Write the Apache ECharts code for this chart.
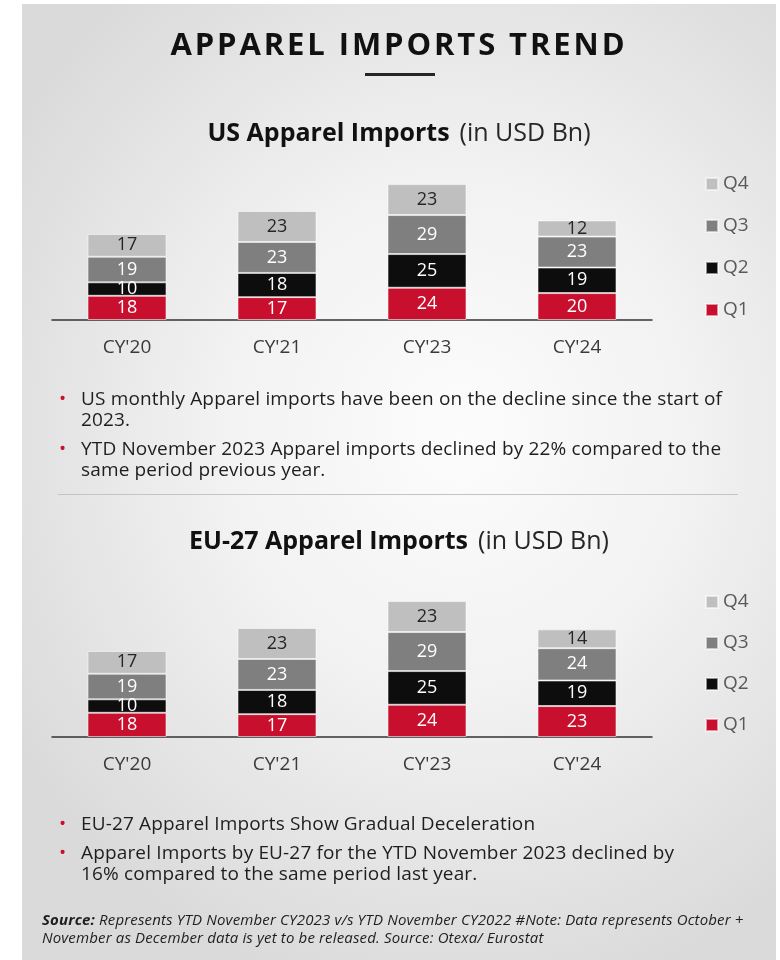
<!DOCTYPE html>
<html>
<head>
<meta charset="utf-8">
<script src="https://cdn.jsdelivr.net/npm/echarts@6/dist/echarts.min.js"></script>
<style>
  html, body { margin: 0; padding: 0; background: #fff; }
  body { width: 780px; height: 960px; position: relative; overflow: hidden; font-family: 'Open Sans', sans-serif; }
  #panel {
    position: absolute; left: 22px; top: 4px; width: 754px; height: 956px;
    background: radial-gradient(ellipse 70% 60% at 58% 45%, #fcfcfc 0%, #f2f2f2 45%, #dadada 100%);
  }
  #chart { position: absolute; left: 22px; top: 4px; width: 754px; height: 956px; }
  .main-title {
    position: absolute; left: 22px; width: 754px; top: 23px; text-align: center;
    font: bold 31px/40px 'Open Sans', sans-serif; letter-spacing: 2.9px; color: #111;
  }
  .rule { position: absolute; left: 365px; top: 73px; width: 70px; height: 3px; background: #262626; }
  .divider { position: absolute; left: 58px; top: 494px; width: 680px; height: 1px; background: #c4c4c4; }
  .bul {
    position: absolute; left: 81px; font-size: 19px; line-height: 21px; letter-spacing: 0.15px;
    color: #1e1e1e; white-space: nowrap;
  }
  .bul .dot {
    position: absolute; left: -22px; top: 0; color: #c8102e; font-size: 19px;
  }
  .source {
    position: absolute; left: 42px; top: 910px; font-size: 15px; line-height: 18px; letter-spacing: 0.15px;
    font-style: italic; color: #1e1e1e; white-space: nowrap;
  }
</style>
</head>
<body>
<div id="panel"></div>
<div id="chart"></div>

<div class="main-title">APPAREL IMPORTS TREND</div>
<div class="rule"></div>

<div class="bul" style="top:388px"><span class="dot">•</span>US monthly Apparel imports have been on the decline since the start of<br>2023.</div>
<div class="bul" style="top:438px"><span class="dot">•</span>YTD November 2023 Apparel imports declined by 22% compared to the<br>same period previous year.</div>

<div class="divider"></div>

<div class="bul" style="top:813px"><span class="dot">•</span>EU-27 Apparel Imports Show Gradual Deceleration</div>
<div class="bul" style="top:842px"><span class="dot">•</span>Apparel Imports by EU-27 for the YTD November 2023 declined by<br>16% compared to the same period last year.</div>

<div class="source"><b>Source:</b> Represents YTD November CY2023 v/s YTD November CY2022 #Note: Data represents October +<br>November as December data is yet to be released. Source: Otexa/ Eurostat</div>

<script>
// ======================
// DATA
// ======================

const categories = ["CY'20", "CY'21", "CY'23", "CY'24"];
const quarters = ['Q1', 'Q2', 'Q3', 'Q4'];

const usQ1 = [18, 17, 24, 20];
const usQ2 = [10, 18, 25, 19];
const usQ3 = [19, 23, 29, 23];
const usQ4 = [17, 23, 23, 12];

const euQ1 = [18, 17, 24, 23];
const euQ2 = [10, 18, 25, 19];
const euQ3 = [19, 23, 29, 24];
const euQ4 = [17, 23, 23, 14];

// ======================
// STYLE
// ======================

const FONT = 'Open Sans';
const quarterColors = { Q1: '#c8102e', Q2: '#0d0d0d', Q3: '#7f7f7f', Q4: '#bfbfbf' };
const labelColors = { Q1: '#ffffff', Q2: '#ffffff', Q3: '#ffffff', Q4: '#262626' };

// ======================
// BUILDERS
// ======================

function buildSeries(values, gridIndex, stack) {
    return quarters.map((q, i) => ({
        name: q,
        type: 'bar',
        stack: stack,
        xAxisIndex: gridIndex,
        yAxisIndex: gridIndex,
        barWidth: 79,
        data: values[i],
        itemStyle: {
            color: quarterColors[q],
            borderColor: 'rgba(255,255,255,0.55)',
            borderWidth: 1
        },
        label: {
            show: true,
            position: 'inside',
            fontFamily: FONT,
            fontSize: 18,
            color: labelColors[q]
        },
        emphasis: { disabled: true }
    }));
}

function buildXAxis(gridIndex) {
    return {
        type: 'category',
        gridIndex: gridIndex,
        data: categories,
        axisLine: { lineStyle: { color: '#333', width: 1.5 } },
        axisTick: { show: false },
        axisLabel: { fontFamily: FONT, fontSize: 19, color: '#3a3a3a', margin: 18 }
    };
}

function buildYAxis(gridIndex) {
    return { type: 'value', gridIndex: gridIndex, min: 0, max: 110, show: false };
}

function buildLegend(top, gap) {
    return {
        orient: 'vertical',
        left: 678,
        top: top,
        itemGap: gap,
        itemWidth: 12,
        itemHeight: 12,
        icon: 'rect',
        selectedMode: false,
        data: ['Q4', 'Q3', 'Q2', 'Q1'],
        textStyle: { fontFamily: FONT, fontSize: 19, color: '#595959', lineHeight: 20 }
    };
}

function buildTitle(bold, normal, top) {
    return {
        text: '{b|' + bold + '}{n|' + normal + '}',
        left: 'center',
        top: top,
        textStyle: {
            fontWeight: 'normal',
            rich: {
                b: { fontFamily: FONT, fontSize: 25, fontWeight: 'bold', color: '#111', lineHeight: 30 },
                n: { fontFamily: FONT, fontSize: 25, fontWeight: 'normal', color: '#262626', lineHeight: 30, padding: [0, 0, 0, 10] }
            }
        }
    };
}

// ======================
// CHART
// ======================

const chart = echarts.init(document.getElementById('chart'), null, { renderer: 'canvas' });

chart.setOption({
    animation: false,
    title: [
        buildTitle('US Apparel Imports', '(in USD Bn)', 110),
        buildTitle('EU-27 Apparel Imports', '(in USD Bn)', 518)
    ],
    legend: [buildLegend(165, 22), buildLegend(583, 21)],
    grid: [
        { left: 30, width: 600, top: 168, height: 148 },
        { left: 30, width: 600, top: 585, height: 148 }
    ],
    xAxis: [buildXAxis(0), buildXAxis(1)],
    yAxis: [buildYAxis(0), buildYAxis(1)],
    series: [
        ...buildSeries([usQ1, usQ2, usQ3, usQ4], 0, 'us'),
        ...buildSeries([euQ1, euQ2, euQ3, euQ4], 1, 'eu')
    ]
});
</script>
</body>
</html>
